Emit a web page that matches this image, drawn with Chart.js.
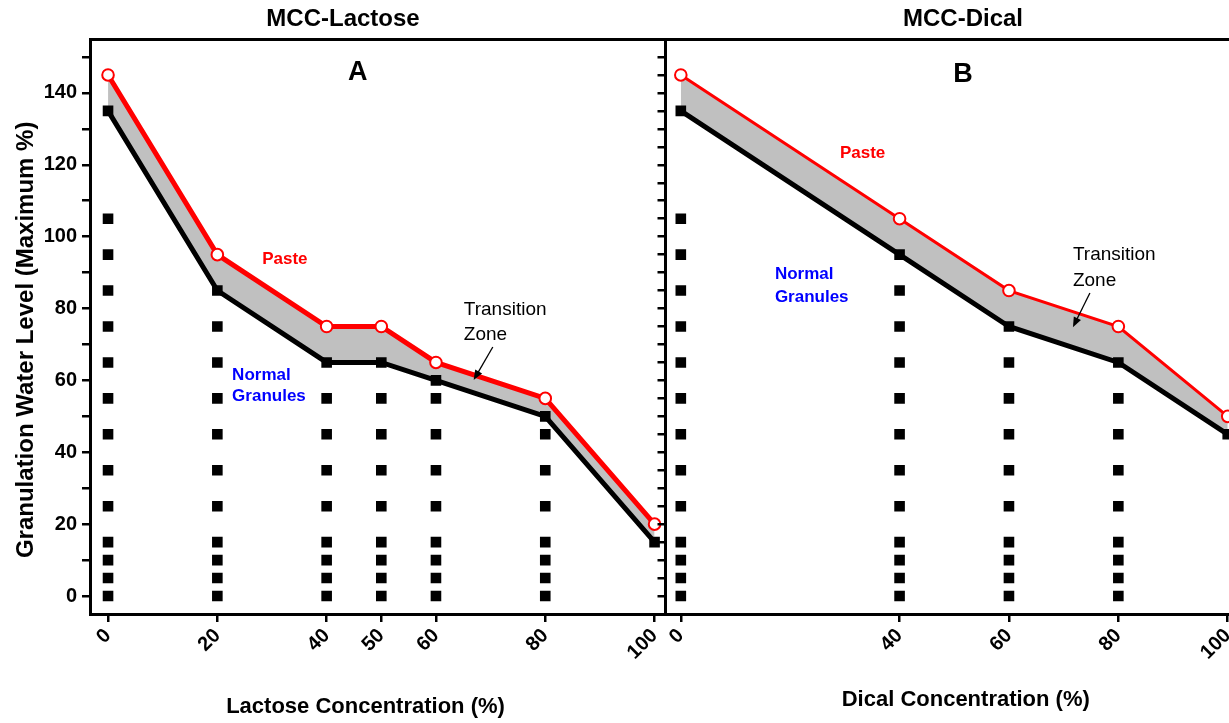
<!DOCTYPE html>
<html><head><meta charset="utf-8">
<script src="https://cdn.jsdelivr.net/npm/chart.js@4.4.1/dist/chart.umd.min.js"></script>
<style>
html,body{margin:0;padding:0;background:#fff;overflow:hidden;width:1229px;height:723px;position:relative;}
#ca{position:absolute;left:0;top:0;}
#cb{position:absolute;left:640px;top:0;}
</style></head><body>
<canvas id="ca" width="686" height="723"></canvas>
<canvas id="cb" width="646" height="723"></canvas>
<script>
// ---------- DATA ----------
const lactoseX = [0, 20, 40, 50, 60, 80, 100];
const lactosePaste = [145, 95, 75, 75, 65, 55, 20];
const lactoseLower = [135, 85, 65, 65, 60, 50, 15];
const lactoseGranules = [
  [0, 5, 10, 15, 25, 35, 45, 55, 65, 75, 85, 95, 105],
  [0, 5, 10, 15, 25, 35, 45, 55, 65, 75],
  [0, 5, 10, 15, 25, 35, 45, 55],
  [0, 5, 10, 15, 25, 35, 45, 55],
  [0, 5, 10, 15, 25, 35, 45, 55],
  [0, 5, 10, 15, 25, 35, 45],
  []
];
const lactoseTicks = [0, 20, 40, 50, 60, 80, 100];

const dicalX = [0, 40, 60, 80, 100];
const dicalPaste = [145, 105, 85, 75, 50];
const dicalLower = [135, 95, 75, 65, 45];
const dicalGranules = [
  [0, 5, 10, 15, 25, 35, 45, 55, 65, 75, 85, 95, 105],
  [0, 5, 10, 15, 25, 35, 45, 55, 65, 75, 85],
  [0, 5, 10, 15, 25, 35, 45, 55, 65],
  [0, 5, 10, 15, 25, 35, 45, 55],
  []
];
const dicalTicks = [0, 40, 60, 80, 100];

const yTickValues = [0, 5, 10, 15, 20, 25, 30, 35, 40, 45, 50, 55, 60, 65, 70, 75, 80, 85, 90, 95, 100, 105, 110, 115, 120, 125, 130, 135, 140, 145, 150];
const yLabelValues = [0, 20, 40, 60, 80, 100, 120, 140];

// ---------- RENDER ----------
Chart.defaults.font.family = '"Liberation Sans", Arial, Helvetica, sans-serif';
Chart.defaults.color = '#000';

function notesPlugin(items) {
  return {
    id: 'notes',
    afterDatasetsDraw(chart) {
      const ctx = chart.ctx, xs = chart.scales.x, ys = chart.scales.y;
      ctx.save();
      items.forEach(it => {
        if (it.arrow) {
          const x1 = xs.getPixelForValue(it.x1), y1 = ys.getPixelForValue(it.y1);
          const x2 = xs.getPixelForValue(it.x2), y2 = ys.getPixelForValue(it.y2);
          const ang = Math.atan2(y2 - y1, x2 - x1);
          const hl = 10, hw = 4;
          ctx.strokeStyle = '#000'; ctx.fillStyle = '#000'; ctx.lineWidth = 1.3;
          ctx.beginPath(); ctx.moveTo(x1, y1);
          ctx.lineTo(x2 - Math.cos(ang) * hl * 0.8, y2 - Math.sin(ang) * hl * 0.8); ctx.stroke();
          ctx.beginPath();
          ctx.moveTo(x2, y2);
          ctx.lineTo(x2 - Math.cos(ang) * hl + Math.sin(ang) * hw, y2 - Math.sin(ang) * hl - Math.cos(ang) * hw);
          ctx.lineTo(x2 - Math.cos(ang) * hl - Math.sin(ang) * hw, y2 - Math.sin(ang) * hl + Math.cos(ang) * hw);
          ctx.closePath(); ctx.fill();
        } else {
          ctx.font = it.font;
          ctx.fillStyle = it.color;
          ctx.textAlign = it.align || 'left';
          ctx.textBaseline = 'middle';
          ctx.fillText(it.text, xs.getPixelForValue(it.x), ys.getPixelForValue(it.y));
        }
      });
      ctx.restore();
    }
  };
}

function buildPanel(id, c) {
  const pts = (xv, yv) => xv.map((x, i) => ({x: x, y: yv[i]}));
  const granulePts = [];
  c.granules.forEach((col, i) => col.forEach(v => granulePts.push({x: c.xValues[i], y: v})));
  return new Chart(document.getElementById(id), {
    type: 'line',
    data: {
      datasets: [
        {label: 'Paste', data: pts(c.xValues, c.paste), borderColor: '#ff0000', borderWidth: c.pasteWidth,
         pointStyle: 'circle', pointRadius: 5.8, pointBackgroundColor: '#ffffff', pointBorderColor: '#ff0000',
         pointBorderWidth: 2, tension: 0, fill: false, order: 1},
        {label: 'Transition Zone', data: pts(c.xValues, c.lower), borderColor: '#000000', borderWidth: 5,
         pointStyle: 'rect', pointRadius: 7.5, pointBackgroundColor: '#000000', pointBorderWidth: 0,
         backgroundColor: '#c0c0c0', fill: '-1', tension: 0, order: 2},
        {label: 'Normal Granules', data: granulePts, showLine: false, pointStyle: 'rect', pointRadius: 7.5,
         pointBackgroundColor: '#000000', pointBorderColor: '#000000', pointBorderWidth: 0, fill: false, order: 3}
      ]
    },
    options: {
      responsive: false, animation: false, devicePixelRatio: 1, events: [],
      layout: {padding: {left: 0, right: 0, top: 0, bottom: 0}},
      plugins: {
        legend: {display: false}, tooltip: {enabled: false},
        title: {display: true, text: c.title, color: '#000', font: {size: 24, weight: 'bold'}, padding: {top: 4.6, bottom: 5.6}}
      },
      scales: {
        x: {
          type: 'linear', position: 'bottom', min: c.xMin, max: c.xMax,
          afterBuildTicks: s => { s.ticks = c.ticks.map(v => ({value: v})); },
          afterFit: s => { s.height = 109; },
          ticks: {autoSkip: false, minRotation: 45, maxRotation: 45, color: '#000', font: {size: 20, weight: 'bold'}, padding: 2},
          grid: {drawOnChartArea: false, drawTicks: true, tickLength: 8, color: '#000', lineWidth: 2.5},
          border: {display: true, color: '#000', width: 3},
          title: {display: true, text: c.xTitle, color: '#000', font: {size: 22, weight: 'bold'}, padding: {top: 0, bottom: c.xTitlePad}}
        },
        x2: {
          type: 'linear', position: 'top', min: c.xMin, max: c.xMax,
          ticks: {display: false}, grid: {display: false, drawTicks: false},
          border: {display: true, color: '#000', width: 3},
          afterFit: s => { s.height = 0; }
        },
        y: {
          type: 'linear', position: 'left', min: -5, max: 155,
          afterBuildTicks: s => { s.ticks = yTickValues.map(v => ({value: v})); },
          afterFit: s => { s.width = c.yWidth; },
          ticks: {display: c.showY, color: '#000', font: {size: 20, weight: 'bold'}, padding: 5,
                  callback: v => (yLabelValues.includes(v) ? String(v) : '')},
          grid: {drawOnChartArea: false, drawTicks: true, tickLength: 8, color: '#000', lineWidth: 2.5},
          border: {display: true, color: '#000', width: 3},
          title: {display: c.showY, text: 'Granulation Water Level (Maximum %)    ', color: '#000',
                  font: {size: 24, weight: 'bold'}, padding: {top: 11.6, bottom: 0}}
        },
        y2: {
          type: 'linear', position: 'right', min: -5, max: 155,
          ticks: {display: false}, grid: {display: false, drawTicks: false},
          border: {display: true, color: '#000', width: 3},
          afterFit: s => { s.width = c.rightWidth; }
        }
      }
    },
    plugins: [notesPlugin(c.notes)]
  });
}

const boldNote = 'bold 17px "Liberation Sans", Arial, sans-serif';
const plainNote = '19px "Liberation Sans", Arial, sans-serif';
const letterFont = 'bold 27px "Liberation Sans", Arial, sans-serif';

buildPanel('ca', {
  xValues: lactoseX, paste: lactosePaste, lower: lactoseLower, granules: lactoseGranules, ticks: lactoseTicks,
  xMin: -3.3, xMax: 102, rightWidth: 20.5, yWidth: 90, showY: true, pasteWidth: 5,
  title: 'MCC-Lactose', xTitle: 'Lactose Concentration (%)    ', xTitlePad: 2.8,
  notes: [
    {text: 'A', x: 45.7, y: 145.8, font: letterFont, color: '#000', align: 'center'},
    {text: 'Paste', x: 28.2, y: 93.8, font: boldNote, color: '#ff0000'},
    {text: 'Normal', x: 22.7, y: 61.5, font: boldNote, color: '#0000ff'},
    {text: 'Granules', x: 22.7, y: 55.6, font: boldNote, color: '#0000ff'},
    {text: 'Transition', x: 65.1, y: 79.6, font: plainNote, color: '#000'},
    {text: 'Zone', x: 65.1, y: 72.6, font: plainNote, color: '#000'},
    {arrow: true, x1: 70.4, y1: 69.3, x2: 66.9, y2: 60.1}
  ]
});

buildPanel('cb', {
  xValues: dicalX, paste: dicalPaste, lower: dicalLower, granules: dicalGranules, ticks: dicalTicks,
  xMin: -2.8, xMax: 107, rightWidth: 20, yWidth: 25.5, showY: false, pasteWidth: 3,
  title: 'MCC-Dical', xTitle: 'Dical Concentration (%)', xTitlePad: 9.8,
  notes: [
    {text: 'B', x: 51.6, y: 145, font: letterFont, color: '#000', align: 'center'},
    {text: 'Paste', x: 29.1, y: 123.3, font: boldNote, color: '#ff0000'},
    {text: 'Normal', x: 17.2, y: 89.6, font: boldNote, color: '#0000ff'},
    {text: 'Granules', x: 17.2, y: 83.2, font: boldNote, color: '#0000ff'},
    {text: 'Transition', x: 71.7, y: 94.9, font: plainNote, color: '#000'},
    {text: 'Zone', x: 71.7, y: 87.6, font: plainNote, color: '#000'},
    {arrow: true, x1: 74.8, y1: 84.3, x2: 71.7, y2: 74.8}
  ]
});
</script>
</body></html>
